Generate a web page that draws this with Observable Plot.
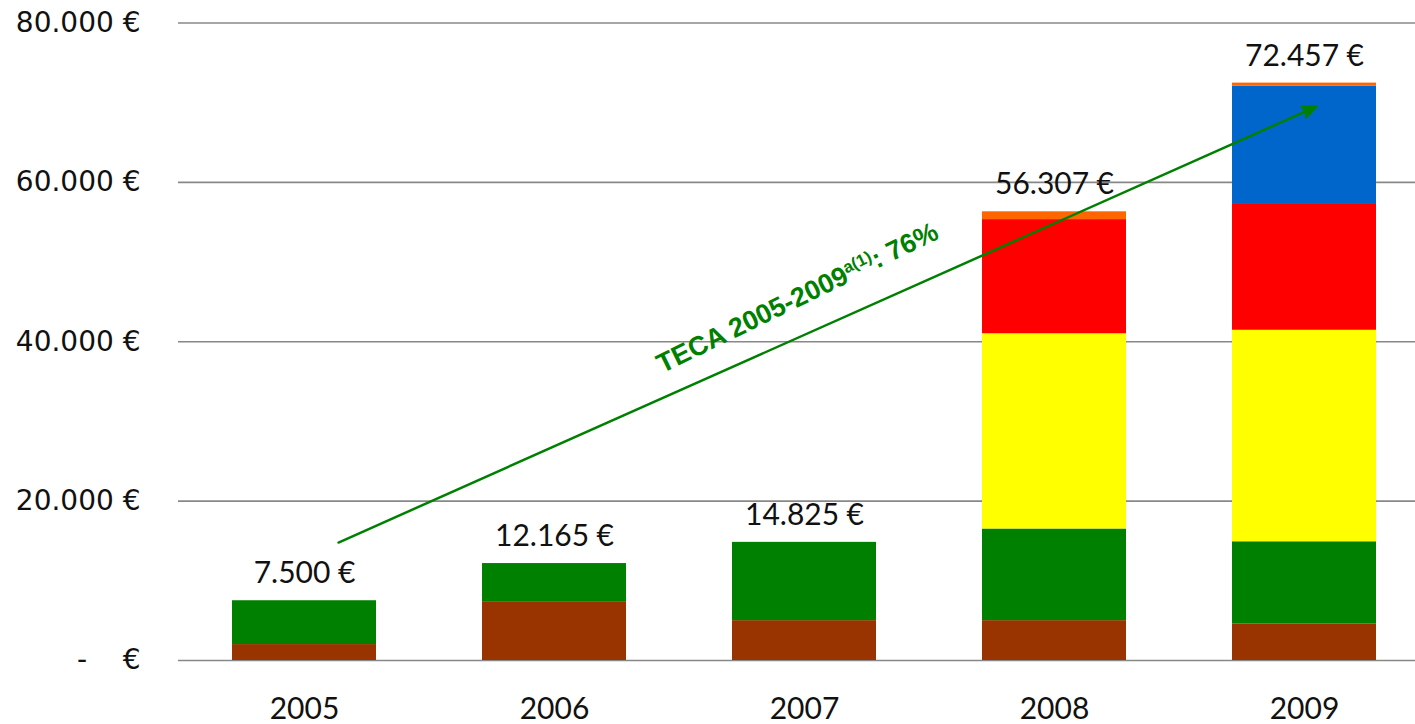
<!DOCTYPE html>
<html>
<head>
<meta charset="utf-8">
<script src="https://cdn.jsdelivr.net/npm/d3@7"></script>
<script src="https://cdn.jsdelivr.net/npm/@observablehq/plot@0.6"></script>
<style>
  html, body { margin: 0; padding: 0; background: #fff; }
  #chart svg { display: block; }
</style>
</head>
<body>
<div id="chart"></div>
<script>
// ---- data ----
const years = ["2005", "2006", "2007", "2008", "2009"];
const seriesNames = ["Serie 1", "Serie 2", "Serie 3", "Serie 4", "Serie 5", "Serie 6"];
const seriesColors = ["#993300", "#008000", "#FFFF00", "#FF0000", "#0066CC", "#FF6600"];
const serie1 = [2000, 7300, 5000, 5000, 4600];
const serie2 = [5500, 4865, 9825, 11500, 10300];
const serie3 = [0, 0, 0, 24500, 26540];
const serie4 = [0, 0, 0, 14330, 15900];
const serie5 = [0, 0, 0, 0, 14720];
const serie6 = [0, 0, 0, 977, 397];
const totals = [7500, 12165, 14825, 56307, 72457];
const yTicks = [0, 20000, 40000, 60000, 80000];
const trendStart = {year: "2005", value: 14800};
const trendEnd = {year: "2009", value: 70750};
const trendText = ["TECA 2005-2009", "a(1)", ": 76%"];
const trendLabelPos = {year: "2007", value: 45500};

// ---- build table ----
const seriesValues = [serie1, serie2, serie3, serie4, serie5, serie6];
const rows = [];
seriesValues.forEach((vals, s) => {
  vals.forEach((v, i) => {
    if (v > 0) rows.push({year: years[i], serie: seriesNames[s], value: v});
  });
});
const totalRows = years.map((y, i) => ({year: y, total: totals[i]}));

const locale = d3.formatLocale({decimal: ",", thousands: ".", grouping: [3], currency: ["", " €"]});
const fmt = locale.format(",.0f");
const yFmt = d => d === 0 ? "-\u00a0\u00a0\u00a0\u00a0€" : fmt(d) + " €";
const valFmt = d => fmt(d) + "\u202f€";

const plot = Plot.plot({
  width: 1415,
  height: 724,
  marginTop: 22.5,
  marginBottom: 64,
  marginLeft: 178,
  marginRight: 0,
  style: {background: "#fff", overflow: "visible"},
  x: {domain: years, range: [179, 1429], paddingInner: 0.424, paddingOuter: 0.212, label: null},
  y: {domain: [0, 80000], label: null},
  color: {domain: seriesNames, range: seriesColors},
  marks: [
    Plot.ruleY(yTicks, {stroke: "#888888", strokeWidth: 1.6}),
    Plot.barY(rows, {x: "year", y: "value", fill: "serie"}),
    Plot.axisY({ticks: yTicks, tickFormat: yFmt, tickSize: 0, tickPadding: 38,
      fontSize: 28, fontFamily: "DejaVu Sans", fill: "#111", label: null}),
    Plot.axisX({tickSize: 0, tickPadding: 37, fontSize: 30, fontFamily: "Lato",
      fill: "#111", label: null}),
    Plot.text(totalRows, {x: "year", y: "total", text: d => valFmt(d.total), dy: -27,
      lineAnchor: "middle", fontSize: 30, fontFamily: "Lato", fill: "#111"}),
    Plot.arrow([{}], {x1: () => trendStart.year, y1: () => trendStart.value,
      x2: () => trendEnd.year, y2: () => trendEnd.value, dx: 34, insetEnd: 24,
      stroke: "#008000", fill: "#008000", strokeWidth: 2.5, headLength: 9, headAngle: 44}),
    Plot.text([{}], {x: () => trendLabelPos.year, y: () => trendLabelPos.value,
      text: () => trendText.join(""), rotate: -26, dx: -7, fontSize: 27,
      fontFamily: "Liberation Sans", fontWeight: "bold", fill: "#008000",
      lineAnchor: "middle", className: "teca"})
  ]
});

// superscript in the trend label
d3.select(plot).selectAll("g.teca text").each(function () {
  const t = d3.select(this);
  t.text(null);
  t.append("tspan").text(trendText[0]);
  t.append("tspan").attr("baseline-shift", "super").attr("font-size", "62%").text(trendText[1]);
  t.append("tspan").text(trendText[2]);
});

document.getElementById("chart").appendChild(plot);
</script>
</body>
</html>
